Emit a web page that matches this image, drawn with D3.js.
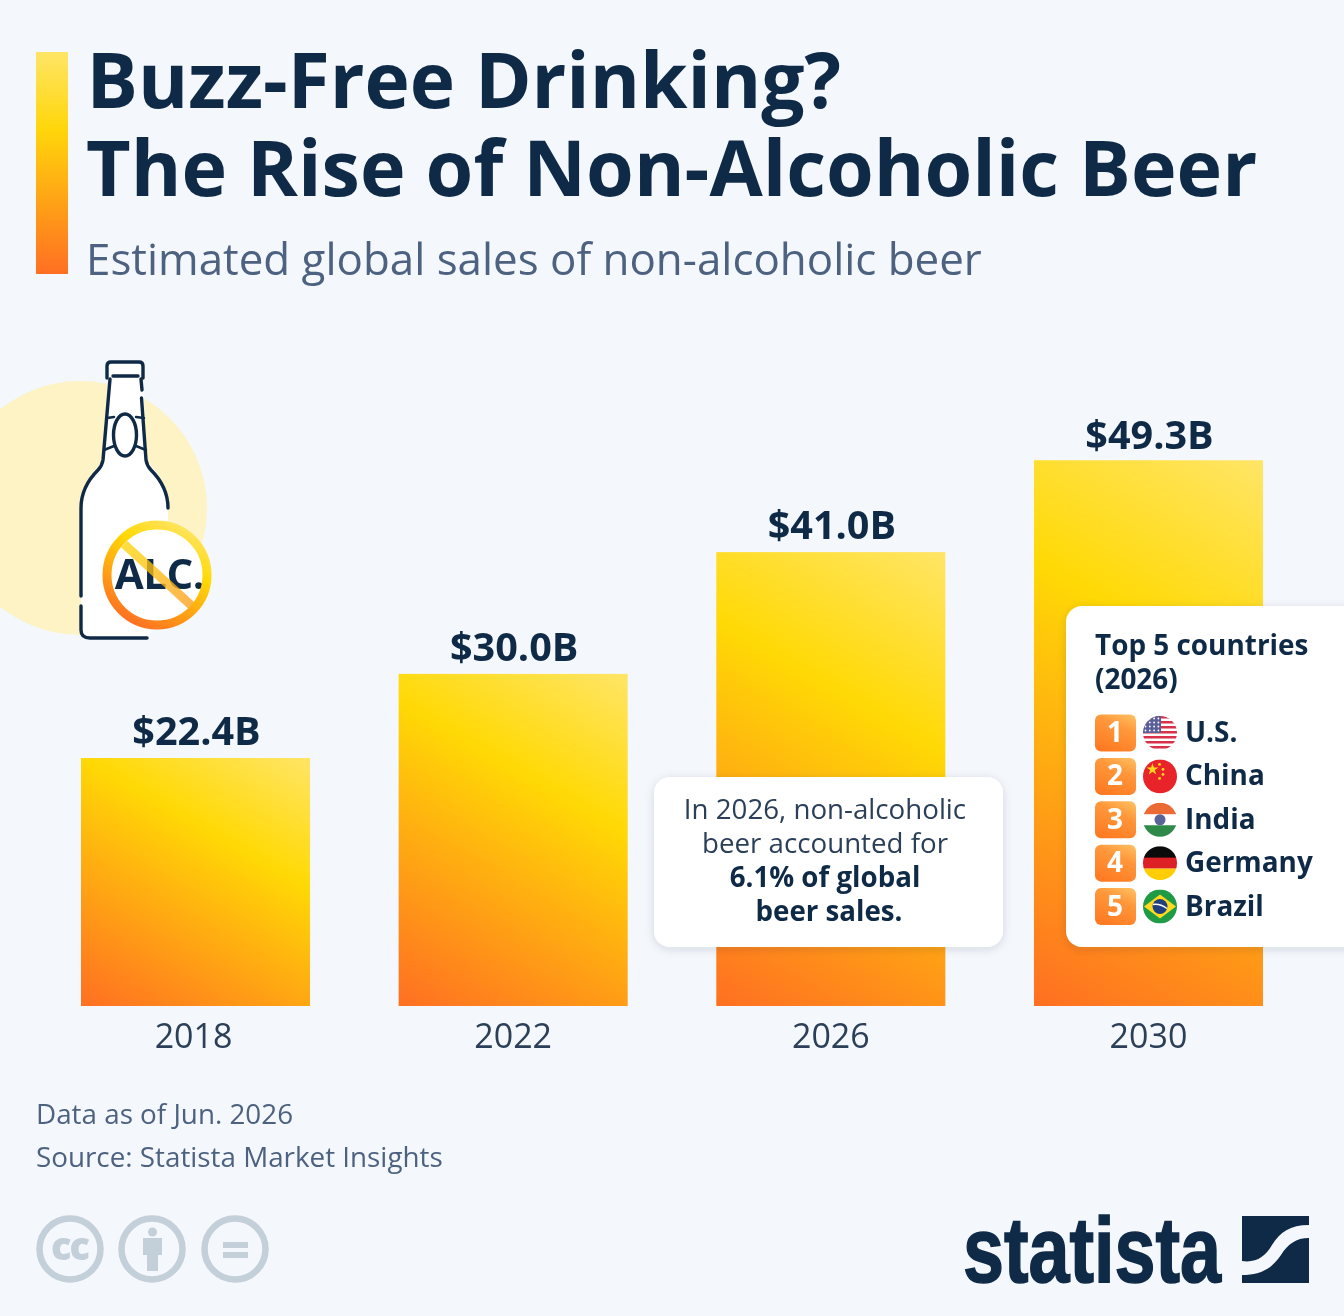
<!DOCTYPE html>
<html><head><meta charset="utf-8">
<script src="https://cdn.jsdelivr.net/npm/d3@7"></script>
<style>html,body{margin:0;padding:0;background:#f4f7fb}svg{display:block;filter:blur(0.5px)}text{font-family:"Open Sans",sans-serif}</style>
</head><body><svg id="c" width="1344" height="1316"></svg>
<script>
const years=["2018","2022","2026","2030"];
const sales=[22.4,30.0,41.0,49.3];
const salesLabels=["$22.4B","$30.0B","$41.0B","$49.3B"];
const countries=["U.S.","China","India","Germany","Brazil"];
const ranks=[1,2,3,4,5];
const navy="#0f2a47", slate="#4c6280", grey="#c3cfd9";
const svg=d3.select("#c");
svg.append("rect").attr("width",1344).attr("height",1316).attr("fill","#f4f7fb");
const defs=svg.append("defs");
function grad(id,x1,y1,x2,y2,stops,user){const g=defs.append("linearGradient").attr("id",id).attr("x1",x1).attr("y1",y1).attr("x2",x2).attr("y2",y2);
 if(user)g.attr("gradientUnits","userSpaceOnUse");
 stops.forEach(s=>g.append("stop").attr("offset",s[0]).attr("stop-color",s[1]));}
const beer=[[0,"#ff6f22"],[0.66,"#ffd905"],[1,"#ffe566"]];
grad("side",0.5,1,0.5,0,[[0,"#ff6f22"],[0.65,"#ffd60a"],[1,"#ffe566"]]);
grad("ring",0.25,1,0.8,0,beer);
grad("slash",0,0,1,1,[[0,"#ffd60a"],[1,"#fb9e1e"]]);
grad("badge",0.8,0,0.3,1,[[0,"#ffbb5c"],[0.35,"#ff973a"],[1,"#ff7a22"]]);
const sh=defs.append("filter").attr("id","sh").attr("x","-10%").attr("y","-10%").attr("width","120%").attr("height","125%");
sh.append("feDropShadow").attr("dx",0).attr("dy",2).attr("stdDeviation",5).attr("flood-color","#0f2a47").attr("flood-opacity",0.14);

// header
svg.append("rect").attr("x",36).attr("y",52).attr("width",32).attr("height",222).attr("fill","url(#side)");
const t=(x,y,s,size,weight,fill,anchor)=>svg.append("text").attr("x",x).attr("y",y).attr("font-size",size).attr("font-weight",weight).attr("fill",fill).attr("text-anchor",anchor||"start").text(s);
t(86.5,108,"Buzz-Free Drinking?",76.6,700,navy);
t(86,196,"The Rise of Non-Alcoholic Beer",77.2,700,navy);
t(86,274.5,"Estimated global sales of non-alcoholic beer",43.9,400,slate);

// scales
const x=d3.scaleBand().domain(years).range([81,1263]).paddingInner(0.279).paddingOuter(0);
const y=d3.scaleLinear().domain([0,50]).range([1006,452.5]);
const nx=0.5, ny=-0.866;
sales.forEach((d,i)=>{
  const h=y(0)-y(d), w=x.bandwidth(), L=w*nx+h*(-ny), x0=x(years[i]), y0=y(0);
  grad("bar"+i,x0,y0,x0+nx*L,y0+ny*L,beer,true);
});
svg.append("g").selectAll("rect").data(sales).join("rect")
 .attr("x",(d,i)=>x(years[i])).attr("width",x.bandwidth()).attr("y",d=>y(d)).attr("height",d=>y(0)-y(d)).attr("fill",(d,i)=>`url(#bar${i})`);
svg.append("g").selectAll("text").data(sales).join("text")
 .attr("x",(d,i)=>x(years[i])+x.bandwidth()/2+1).attr("y",(d,i)=>y(d)-13+(i==3?1.5:0)).attr("text-anchor","middle")
 .attr("font-size",39.6).attr("font-weight",700).attr("fill",navy).text((d,i)=>salesLabels[i]);
const ax=svg.append("g").attr("transform","translate(0,1006)").call(d3.axisBottom(x).tickSize(0).tickPadding(13));
ax.select(".domain").remove();
ax.selectAll("text").attr("font-size",34).attr("fill","#2b4058").style("font-family",'"Open Sans",sans-serif').attr("dy","0.85em").attr("dx",(d,i)=>i==0?-2:0);

// bottle icon
svg.append("circle").attr("cx",80).attr("cy",508).attr("r",127).attr("fill","#fdf3c4");
const bottleFill="M108 375 L143 375 L146 460 L150 464 C162 478 168 490 168 510 L168 600 L148 638 L92 638 Q81 638 81 628 L81 510 C81 490 88 478 100 464 L104 460 Z";
svg.append("path").attr("d",bottleFill).attr("fill","#fff");
svg.append("rect").attr("x",107).attr("y",362).attr("width",36).attr("height",16).attr("fill","#fff");
const bl=svg.append("g").attr("fill","none").attr("stroke",navy).attr("stroke-width",3.4).attr("stroke-linecap","round").attr("stroke-linejoin","round");
bl.append("path").attr("d","M107 378 L107 366 Q107 362 111 362 L139 362 Q143 362 143 366 L143 378");
bl.append("path").attr("d","M113 376 L138 376");
bl.append("path").attr("d","M110 379 L103 460 Q102 466 98 470 C88 480 81 492 81 508 L81 596");
bl.append("path").attr("d","M141 379 L142 390 M141.5 398 L146 460 Q147 466 151 470 C161 480 168 492 168 508");
bl.append("path").attr("d","M81 606 L81 630 Q81 638 90 638 L147 638");
bl.append("ellipse").attr("cx",125).attr("cy",435).attr("rx",11.5).attr("ry",21);
bl.append("path").attr("d","M107 418 L114 417 M136 417 L144 418 M104 450 L114 446 M136 446 L146 450").attr("stroke-width",2.5);
svg.append("circle").attr("cx",157).attr("cy",575).attr("r",50).attr("fill","#fff");
t(159.5,589,"ALC.",42,700,navy,"middle").attr("letter-spacing",-0.5);
svg.append("line").attr("x1",124).attr("y1",544).attr("x2",193).attr("y2",607).attr("stroke","url(#slash)").attr("stroke-width",9).attr("opacity",0.78);
svg.append("circle").attr("cx",157).attr("cy",575).attr("r",50).attr("fill","none").attr("stroke","url(#ring)").attr("stroke-width",9);

// callout
svg.append("rect").attr("x",654).attr("y",777).attr("width",349).attr("height",170).attr("rx",16).attr("fill","#fff").attr("filter","url(#sh)");
[["In 2026, non-alcoholic",400,825,819],["beer accounted for",400,825,853],["6.1% of global",700,825,887],["beer sales.",700,829,921]].forEach(l=>t(l[2],l[3],l[0],27.7,l[1],l[1]==700?navy:"#2b4058","middle"));

// top-5 panel
svg.append("rect").attr("x",1066).attr("y",606).attr("width",300).attr("height",341).attr("rx",16).attr("fill","#fff").attr("filter","url(#sh)");
t(1095,655,"Top 5 countries",27.9,700,navy);
t(1095,689,"(2026)",27.9,700,navy);
const rowY=d3.scalePoint().domain(ranks).range([733,906.5]);
const rows=svg.append("g").selectAll("g").data(ranks).join("g").attr("transform",d=>`translate(0,${rowY(d)})`);
rows.append("rect").attr("x",1095).attr("y",-18.5).attr("width",41).attr("height",37).attr("rx",6).attr("fill","url(#badge)");
rows.append("text").attr("x",1115).attr("y",9).attr("text-anchor","middle").attr("font-size",28).attr("font-weight",700).attr("fill","#fff").text(d=>d);
rows.append("text").attr("x",1185).attr("y",9).attr("font-size",27.9).attr("font-weight",700).attr("fill",navy).text((d,i)=>countries[i]);
// flags
const fx=1160,r=17;
ranks.forEach((d,i)=>{defs.append("clipPath").attr("id","f"+i).append("circle").attr("cx",fx).attr("cy",0).attr("r",r);});
const flags=rows.append("g").attr("clip-path",(d,i)=>`url(#f${i})`);
const R=(g,x0,y0,w,h,c)=>g.append("rect").attr("x",x0).attr("y",y0).attr("width",w).attr("height",h).attr("fill",c);
flags.each(function(d,i){const g=d3.select(this);
 if(i==0){R(g,fx-r,-r,2*r,2*r,"#fff");for(let k=0;k<7;k++)R(g,fx-r,-r+k*5,2*r,2.5,"#d8324a");R(g,fx-r,-r,18,17,"#5a5f9a");
   for(let a=0;a<4;a++)for(let b=0;b<4;b++)g.append("circle").attr("cx",fx-r+2.5+b*4.3).attr("cy",-r+2.5+a*4).attr("r",0.9).attr("fill","#fff");}
 if(i==1){R(g,fx-r,-r,2*r,2*r,"#e8232a");
   g.append("path").attr("d",d3.symbol(d3.symbolStar,45)()).attr("transform",`translate(${fx-7.5},-7)`).attr("fill","#ffd91c");
   [[-0.5,-12],[3,-7],[3,-2],[-0.5,2]].forEach(p=>g.append("circle").attr("cx",fx+p[0]).attr("cy",p[1]).attr("r",1.4).attr("fill","#ffd91c"));}
 if(i==2){R(g,fx-r,-r,2*r,12,"#ec6a33");R(g,fx-r,-5.5,2*r,11,"#fff");R(g,fx-r,5.5,2*r,12,"#2f8a4a");
   g.append("circle").attr("cx",fx).attr("cy",0).attr("r",5.5).attr("fill","#5a6498");}
 if(i==3){R(g,fx-r,-r,2*r,12,"#0b0b0b");R(g,fx-r,-5.5,2*r,11,"#dd1f26");R(g,fx-r,5.5,2*r,12,"#ffcd05");}
 if(i==4){R(g,fx-r,-r,2*r,2*r,"#1f9a45");
   g.append("path").attr("d",`M${fx-16} 0 L${fx} -12 L${fx+16} 0 L${fx} 12 Z`).attr("fill","#ffd91c");
   g.append("circle").attr("cx",fx).attr("cy",0).attr("r",7.5).attr("fill","#21407f");
   g.append("path").attr("d",`M${fx-7} -2 Q${fx} -3 ${fx+7} 2`).attr("stroke","#fff").attr("stroke-width",1.5).attr("fill","none");}
});

// footer
t(36,1124,"Data as of Jun. 2026",27.8,400,slate);
t(36,1167,"Source: Statista Market Insights",27.8,400,slate);
const ccs=[70,152,235];
svg.append("g").selectAll("circle").data(ccs).join("circle").attr("cx",d=>d).attr("cy",1249).attr("r",30.5).attr("fill","none").attr("stroke",grey).attr("stroke-width",6.5);
svg.append("text").attr("x",69.5).attr("y",1260).attr("text-anchor","middle").attr("font-size",38).attr("font-weight",800).attr("letter-spacing",-2).attr("fill",grey).text("cc");
svg.append("circle").attr("cx",152.5).attr("cy",1232).attr("r",4.5).attr("fill",grey);
R(svg,143,1238,19,17,grey);R(svg,147,1250,11,21,grey);
R(svg,223,1242,25,6,grey);R(svg,223,1252,25,6,grey);
// logo
t(963,1282,"statista",92,700,navy).style("font-family",'"Liberation Sans Narrow","Liberation Sans",sans-serif').attr("textLength",258).attr("lengthAdjust","spacingAndGlyphs").attr("stroke",navy).attr("stroke-width",1.6);
svg.append("path").attr("fill",navy).attr("d","M1242 1216 L1309 1216 L1309 1225 C1290 1225 1280 1232 1272 1245 C1265 1257 1256 1263 1242 1261 Z");
svg.append("path").attr("fill",navy).attr("d","M1309 1238 L1309 1283 L1242 1283 L1242 1275 C1262 1275 1272 1268 1281 1255 C1288 1244 1296 1238 1309 1238 Z");
</script></body></html>
